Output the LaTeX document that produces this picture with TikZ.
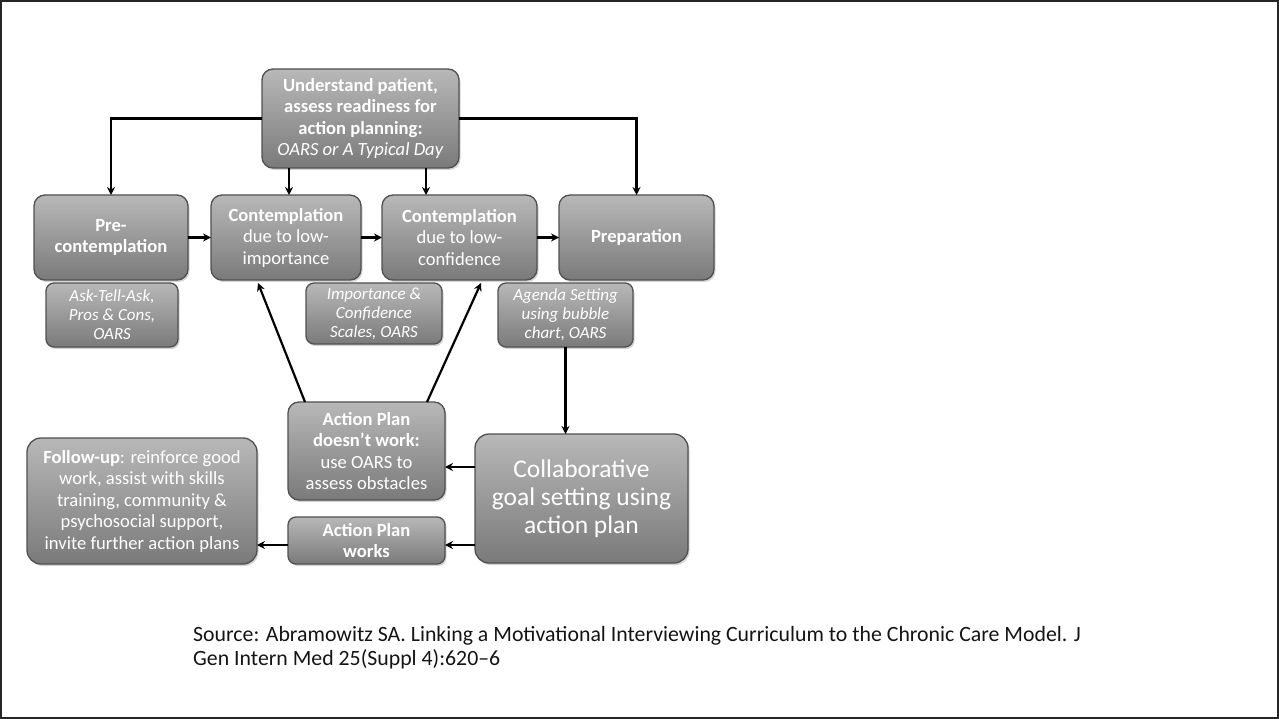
\documentclass[tikz,border=0pt]{standalone}
\usepackage{fontspec}
\setmainfont{Carlito}
\usetikzlibrary{arrows.meta,shadows,calc}
\definecolor{boxtop}{RGB}{184,184,184}
\definecolor{boxbot}{RGB}{122,122,122}
\definecolor{boxline}{RGB}{80,80,80}
\definecolor{srctext}{RGB}{20,20,20}
\begin{document}
\begin{tikzpicture}[x=1pt,y=-1pt,
  stagebox/.style={draw=boxline, line width=1.3pt, rounded corners=11pt,
    top color=boxtop, bottom color=boxbot, text=white, align=center,
    inner sep=1pt, outer sep=0pt,
    drop shadow={opacity=0.35, shadow xshift=1.5pt, shadow yshift=-2pt},
    font=\fontsize{18.6}{21.5}\selectfont},
  toolbox/.style={stagebox, rounded corners=8pt,
    font=\fontsize{17}{19}\selectfont\itshape},
  arr/.style={draw=black, line width=2.2pt, -{Stealth[length=8pt,width=8pt]}}]
\useasboundingbox (0,0) rectangle (1279,719);
\draw[line width=2pt, black!85] (1,1) rectangle (1278,718);

% top box
\node[stagebox, minimum width=197pt, minimum height=99pt] (top) at (360.5,118.5)
  {\textbf{Understand patient,}\\\textbf{assess readiness for}\\\textbf{action planning:}\\\textit{OARS or A Typical Day}};

% stages of change
\node[stagebox, minimum width=154pt, minimum height=85pt] (pre) at (111,237.5)
  {\textbf{Pre-}\\\textbf{contemplation}};
\node[stagebox, minimum width=150pt, minimum height=85pt] (c1) at (286,237.5)
  {\textbf{Contemplation}\\due to low-\\importance};
\node[stagebox, minimum width=155pt, minimum height=85pt] (c2) at (459.5,237.5)
  {\textbf{Contemplation}\\due to low-\\confidence};
\node[stagebox, minimum width=155pt, minimum height=85pt] (prep) at (636.5,237.5)
  {\textbf{Preparation}};

% tools under the stages
\node[toolbox, minimum width=132pt, minimum height=64pt] (ask) at (112,315)
  {Ask-Tell-Ask,\\Pros \& Cons,\\OARS};
\node[toolbox, minimum width=136pt, minimum height=61pt] (imp) at (374,313.5)
  {Importance \&\\Confidence\\Scales, OARS};
\node[toolbox, minimum width=135pt, minimum height=64pt] (agenda) at (565.5,315)
  {Agenda Setting\\using bubble\\chart, OARS};

% action plan stage
\node[stagebox, minimum width=157pt, minimum height=98pt] (dnw) at (366.5,451)
  {\textbf{Action Plan}\\\textbf{doesn’t work:}\\use OARS to\\assess obstacles};
\node[stagebox, rounded corners=8pt, minimum width=157pt, minimum height=47pt] (works) at (366.5,540.5)
  {\textbf{Action Plan}\\\textbf{works}};
\node[stagebox, rounded corners=14pt, minimum width=213pt, minimum height=129pt,
  font=\fontsize{25.5}{28}\selectfont] (collab) at (581.5,498.5)
  {Collaborative\\goal setting using\\action plan};
\node[stagebox, rounded corners=14pt, minimum width=230pt, minimum height=126pt] (follow) at (142,501)
  {\textbf{Follow-up}: reinforce good\\work, assist with skills\\training, community \&\\psychosocial support,\\invite further action plans};

% connectors
\coordinate (xa) at (289,0);
\coordinate (xb) at (426,0);
\coordinate (ya) at (0,467);
\coordinate (yb) at (0,545);
\draw[arr] (top.west) -| (pre.north);
\draw[arr] (top.east) -| (prep.north);
\draw[arr] (top.south -| xa) -- (c1.north -| xa);
\draw[arr] (top.south -| xb) -- (c2.north -| xb);
\draw[arr] (pre.east) -- (c1.west);
\draw[arr] (c1.east) -- (c2.west);
\draw[arr] (c2.east) -- (prep.west);
\draw[arr] (agenda.south) -- (agenda.south |- collab.north);
\draw[arr] ($(dnw.north west)+(17,0)$) -- ($(c1.south)+(-28,3)$);
\draw[arr] ($(dnw.north east)+(-18,0)$) -- ($(c2.south)+(21.5,3)$);
\draw[arr] (collab.west |- ya) -- (dnw.east |- ya);
\draw[arr] (collab.west |- yb) -- (works.east |- yb);
\draw[arr] (works.west |- yb) -- (follow.east |- yb);

% reference line (base anchor sits on the last line)
\node[anchor=base west, align=left, text=srctext, inner sep=0pt,
  font=\fontsize{21.8}{23.5}\selectfont] (src) at (193,665)
  {Source: Abramowitz SA. Linking a Motivational Interviewing Curriculum to the Chronic Care Model. J\\Gen Intern Med 25(Suppl 4):620–6};
\end{tikzpicture}
\end{document}
